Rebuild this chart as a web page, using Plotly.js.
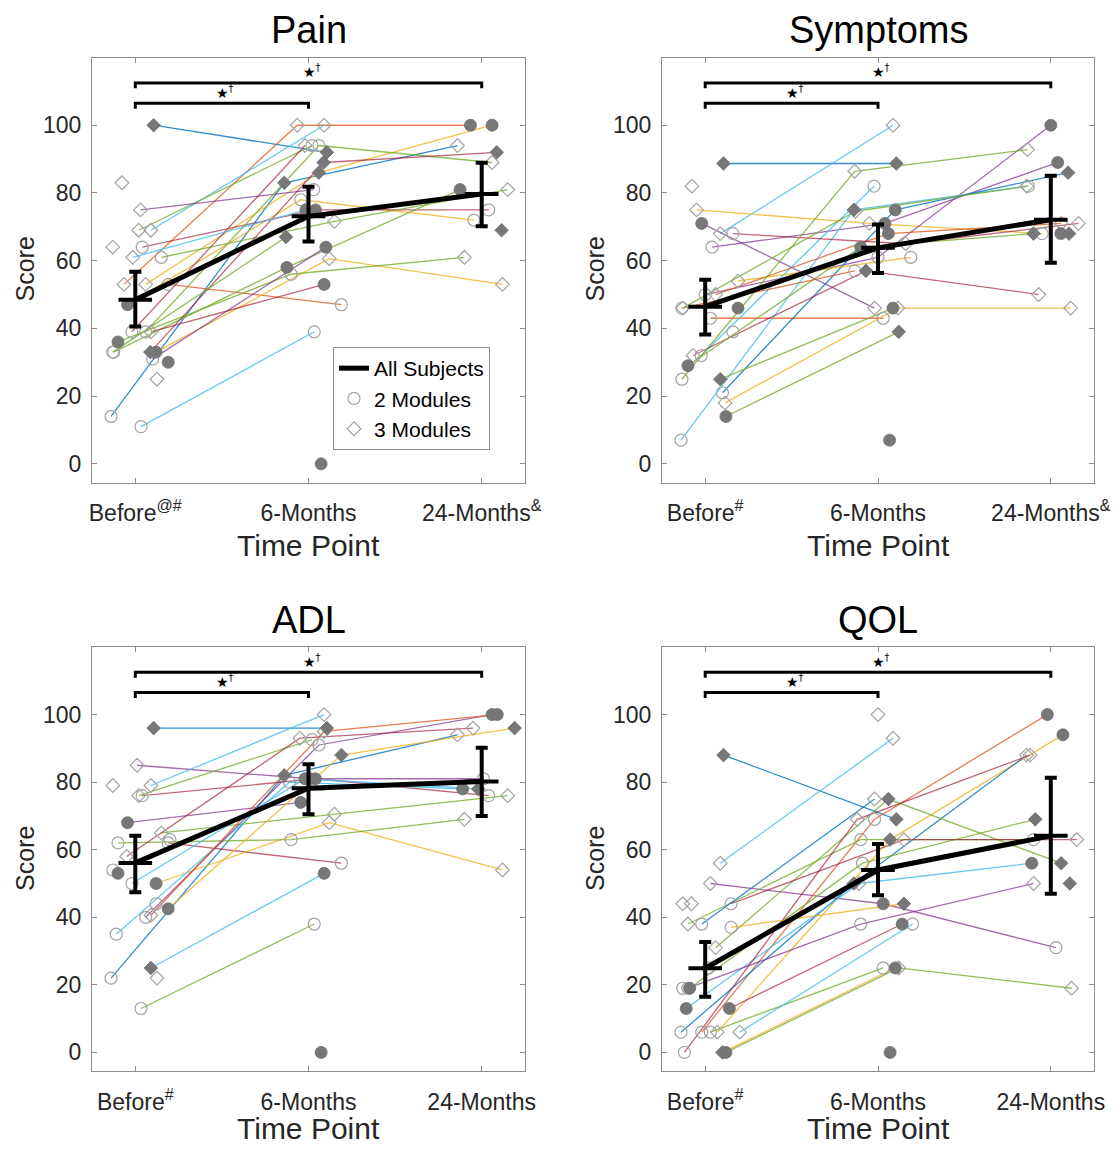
<!DOCTYPE html>
<html>
<head>
<meta charset="utf-8">
<script src="https://cdn.plot.ly/plotly-3.0.1.min.js"></script>
<style>html,body{margin:0;padding:0;background:#fff}#chart{width:1115px;height:1150px}</style>
</head>
<body>
<div id="chart"></div>
<script>
// ---------------- DATA ----------------
const timePoints = [1, 2, 3];
const painTicks = ['Before<sup>@#</sup>', '6-Months', '24-Months<sup>&</sup>'];
const symptomsTicks = ['Before<sup>#</sup>', '6-Months', '24-Months<sup>&</sup>'];
const adlTicks = ['Before<sup>#</sup>', '6-Months', '24-Months'];
const qolTicks = ['Before<sup>#</sup>', '6-Months', '24-Months'];
const yTickVals = [0, 20, 40, 60, 80, 100];

// marker codes per time point: o = 2 Modules, d = 3 Modules, O/D = filled, - = none
// Pain
const painJitter = [0.106, -0.14, 0.033, -0.065, 0.09, 0.02, 0.06, -0.045, 0.03, 0.04, 0.19, 0.15, 0.12, -0.1, -0.125, 0.1, 0.09, 0.06, -0.02, 0.087, -0.015, -0.13, -0.077, -0.13, 0.19, 0.125, 0.073, 0.115];
const painBefore = [100, 14, 11, 53, 69, 69, 53, 47, 75, 64, 53, 61, 33, 36, 33, 31, 39, 39, 39, 33, 61, 33, 83, 64, 30, 25, null, null];
const painSix = [92, 83, 39, 100, 100, 94, 86, 78, 81, 75, 47, 71.6, 60.6, 56, 58, 64, 53, 94, 94, 89, 75, 67, null, null, null, null, 0, null];
const painTwentyFour = [null, 94, null, 100, null, null, 100, 72, null, 75, null, 81, 53, 61, 81, null, null, 89, null, 92, null, null, null, null, null, null, null, 69];
const painMarks = ['DD-', 'oDd', 'oo-', 'ddO', 'dd-', 'do-', 'dDO', 'Ooo', 'do-', 'oOo', 'oo-', 'odd', 'Odd', 'Ood', 'oOO', 'oO-', 'dO-', 'ood', 'od-', 'DDD', 'dO-', 'oD-', 'd--', 'd--', 'O--', 'd--', '-O-', '--D'];
const painColors = 'bbcocgyyprogyggprgrrcgpbbbbb';
const painMean = [48.5, 73.1, 79.7];
const painUpper = [56.7, 81.8, 88.9];
const painLower = [40.6, 65.7, 70.2];

// Symptoms
const symJitter = [0.106, 0.087, -0.05, -0.02, 0.04, 0.0, 0.03, -0.14, 0.1, -0.023, -0.07, 0.087, 0.12, 0.115, 0.19, 0.06, -0.1, 0.16, -0.135, -0.13, -0.135, -0.077, 0.19, 0.16, 0.067, 0.058, 0.106];
const symBefore = [88.7, 68, 75, 71, 64, 50, 43, 7, 21, 32, 32, 25, 14, 18, 54, 50, 29, 68, 46, 46, 25, 82, 46, 39, null, null, null];
const symSix = [88.7, 100, 71, 46, 71, 61, 43, 75, 75, 82, 57, 46, 39, 46, 61, 68, 64, 65, 57, 74.6, 86.4, null, null, null, 7, null, null];
const symTwentyFour = [null, null, 68, null, 89, 100, null, 82, 86, null, 50, null, null, 46, null, 71, 68, 71, null, 82, 92.8, null, null, null, null, 68, 68];
const symMarks = ['DD-', 'dd-', 'ddo', 'Od-', 'oOO', 'ooO', 'oo-', 'oDd', 'oOD', 'oo-', 'dDd', 'DO-', 'OD-', 'ddd', 'do-', 'dOd', 'OOD', 'odd', 'oo-', 'ddo', 'odd', 'd--', 'O--', 'o--', '-O-', '--O', '--D'];
const symColors = 'bcypppocbcrggyyogroggypbbbbb';
const symMean = [46.4, 63.8, 72.1];
const symUpper = [54.4, 70.7, 85.1];
const symLower = [38.2, 56.4, 59.4];

// ADL
const adlJitter = [0.106, 0.01, 0.09, 0.02, -0.14, 0.04, -0.045, 0.15, 0.19, 0.12, -0.1, 0.09, 0.033, -0.11, 0.06, 0.09, 0.19, -0.02, -0.05, -0.13, -0.13, -0.1, 0.12, 0.125, 0.073, 0.2];
const adlBefore = [96, 85, 79, 76, 22, 76, 68, 65, 62, 50, 62, 25, 13, 35, 40, 40.6, 42.5, 50, 58, 79, 54, 53, 44, 22, null, 63];
const adlSix = [96, 81, 100, 92.6, 82, 81, 74, 70.5, 56, 68, 63, 53, 38, 80, 91, 95, 88, 81, 93, null, null, null, null, null, 0, null];
const adlTwentyFour = [null, 81, null, null, 94, 76, null, 76, null, 54, 69, null, null, 78, 100, 100, 96, 78, 96, null, null, null, null, null, null, null];
const adlMarks = ['DD-', 'dOo', 'dd-', 'do-', 'oDd', 'oOo', 'OO-', 'ddd', 'oo-', 'Odd', 'ood', 'DO-', 'oo-', 'ooO', 'ooO', 'ddO', 'ODD', 'oOD', 'ddd', 'd--', 'o--', 'O--', 'o--', 'd--', '-O-', 'o--'];
const adlColors = 'bpcgbrpgrygcgcpoycrcbbbbbbb';
const adlMean = [56.1, 78.2, 80.2];
const adlUpper = [64.1, 85.3, 90.2];
const adlLower = [47.4, 70.5, 70.0];

// QOL
const qolJitter = [0.106, 0.087, 0.03, -0.02, 0.07, -0.14, 0.06, -0.1, -0.09, -0.11, -0.1, 0.12, 0.1, 0.03, 0.2, 0.14, -0.12, 0.15, 0.15, -0.13, -0.08, 0.0, 0.07, -0.02, 0.02, -0.13, 0.11];
const qolBefore = [88, 56, 50, 6, 6, 6, 31, 38, 19, 13, 19, 0, 0, 6, 6, 13, 0, 44, 37, 44, 44, null, null, 38, 25, 19, null];
const qolSix = [69, 93, 44, 69, 63, 50, 75, 63, 56, 50, 38, 25, 25, 25, 38, 38, 69, 63, 44, null, null, 100, 0, 75, null, null, null];
const qolTwentyFour = [null, null, 31, 100, 94, 88, 56, 63, 69, 56, 50, 19, null, null, null, null, 88, 63, null, null, null, null, null, null, null, null, 50];
const qolMarks = ['DD-', 'dd-', 'dOo', 'ooO', 'dDO', 'oDd', 'dDD', 'doo', 'OoD', 'OdO', 'ood', 'Odd', 'DO-', 'oo-', 'do-', 'OO-', 'odd', 'odd', 'oD-', 'd--', 'd--', '-d-', '-O-', 'od-', 'o--', 'o--', '--D'];
const qolColors = 'bcpoybgggcpgygcrrryobbbbgbbb';
const qolMean = [24.9, 54.0, 64.1];
const qolUpper = [32.7, 61.7, 81.3];
const qolLower = [16.5, 46.5, 47.0];

// significance brackets: [from, to, level]
const bracketPairs = [[1, 2, 106.5], [1, 3, 112.5]];
const bracketLabel = '★<sup>†</sup>';

// ---------------- STYLE ----------------
const palette = {
  b: 'rgba(0,114,189,0.8)', o: 'rgba(217,83,25,0.75)', y: 'rgba(237,177,32,0.8)',
  p: 'rgba(126,47,142,0.7)', g: 'rgba(119,172,48,0.8)', c: 'rgba(77,190,238,0.85)', r: 'rgba(162,20,47,0.65)'
};
const markerStyles = {
  o: {symbol: 'circle-open', size: 12, color: '#a3a3a3', line: {width: 1.2, color: '#a3a3a3'}},
  d: {symbol: 'diamond-open', size: 10.5, color: '#a3a3a3', line: {width: 1.2, color: '#a3a3a3'}},
  O: {symbol: 'circle', size: 12, color: '#777777', line: {width: 0.8, color: '#6e6e6e'}},
  D: {symbol: 'diamond', size: 10.5, color: '#777777', line: {width: 0.8, color: '#6e6e6e'}}
};
const FONT = 'Liberation Sans, Arial, Helvetica, sans-serif';
const W = 1115, H = 1150;
const colPx = [[92, 525], [662, 1094]];
const rowPx = [[57.5, 482.5], [647, 1071]];
const xTitleGap = [488, 481];

const panels = [
  {title: 'Pain', jit: painJitter, v: [painBefore, painSix, painTwentyFour], mk: painMarks, col: painColors, mean: painMean, up: painUpper, lo: painLower, ticks: painTicks, c: 0, r: 0},
  {title: 'Symptoms', jit: symJitter, v: [symBefore, symSix, symTwentyFour], mk: symMarks, col: symColors, mean: symMean, up: symUpper, lo: symLower, ticks: symptomsTicks, c: 1, r: 0},
  {title: 'ADL', jit: adlJitter, v: [adlBefore, adlSix, adlTwentyFour], mk: adlMarks, col: adlColors, mean: adlMean, up: adlUpper, lo: adlLower, ticks: adlTicks, c: 0, r: 1},
  {title: 'QOL', jit: qolJitter, v: [qolBefore, qolSix, qolTwentyFour], mk: qolMarks, col: qolColors, mean: qolMean, up: qolUpper, lo: qolLower, ticks: qolTicks, c: 1, r: 1}
];

const traces = [];
const layout = {
  width: W, height: H, margin: {l: 0, r: 0, t: 0, b: 0},
  paper_bgcolor: '#fff', plot_bgcolor: '#fff',
  font: {family: FONT, color: '#262626'},
  showlegend: true,
  legend: {x: 333 / W, y: 1 - 347 / H, xanchor: 'left', yanchor: 'top', bgcolor: '#fff',
           bordercolor: '#8c8c8c', borderwidth: 1, font: {size: 21, family: FONT, color: '#000'},
           tracegroupgap: 0, itemwidth: 30},
  annotations: [], shapes: []
};

panels.forEach((p, i) => {
  const n = i === 0 ? '' : String(i + 1);
  const xa = 'x' + n, ya = 'y' + n;
  const xd = [colPx[p.c][0] / W, colPx[p.c][1] / W];
  const yd = [1 - rowPx[p.r][1] / H, 1 - rowPx[p.r][0] / H];
  const axCommon = {ticks: 'inside', ticklen: 5, tickcolor: '#8c8c8c', showline: true, linecolor: '#8c8c8c',
    linewidth: 1, mirror: 'ticks', showgrid: false, zeroline: false, fixedrange: true,
    tickfont: {size: 23, family: FONT, color: '#262626'}};
  layout['xaxis' + n] = Object.assign({}, axCommon, {domain: xd, anchor: ya, range: [0.75, 3.25],
    tickmode: 'array', tickvals: timePoints, ticktext: p.ticks, ticklabelstandoff: 10});
  layout['yaxis' + n] = Object.assign({}, axCommon, {domain: yd, anchor: xa, range: [-5.5, 120],
    tickmode: 'array', tickvals: yTickVals, ticklabelstandoff: 5});

  // subject lines
  p.jit.forEach((j, s) => {
    traces.push({x: timePoints.map(t => t + j), y: p.v.map(a => a[s]), xaxis: xa, yaxis: ya,
      mode: 'lines', line: {color: palette[p.col[s]] || palette.b, width: 1.3}, connectgaps: false,
      hoverinfo: 'skip', showlegend: false});
  });
  // markers grouped by style
  ['o', 'd', 'O', 'D'].forEach(code => {
    const xs = [], ys = [];
    p.jit.forEach((j, s) => {
      for (let k = 0; k < 3; k++) {
        if (p.mk[s][k] === code && p.v[k][s] !== null) { xs.push(timePoints[k] + j); ys.push(p.v[k][s]); }
      }
    });
    traces.push({x: xs, y: ys, xaxis: xa, yaxis: ya, mode: 'markers', marker: markerStyles[code],
      hoverinfo: 'skip', showlegend: false});
  });
  // mean with error bars
  traces.push({x: timePoints, y: p.mean, xaxis: xa, yaxis: ya, mode: 'lines+markers', name: 'All Subjects',
    showlegend: i === 0, line: {color: '#000', width: 5},
    marker: {symbol: 'line-ew', size: 24, color: '#000', line: {width: 4, color: '#000'}},
    error_y: {type: 'data', symmetric: false, array: p.up.map((u, k) => u - p.mean[k]),
      arrayminus: p.mean.map((m, k) => m - p.lo[k]), thickness: 4, width: 6, color: '#000'}});

  // brackets & labels
  bracketPairs.forEach(([a, b, lev]) => {
    layout.shapes.push({type: 'path', xref: xa, yref: ya,
      path: `M ${a},${lev - 1.6} L ${a},${lev} L ${b},${lev} L ${b},${lev - 1.6}`,
      line: {color: '#000', width: 3}});
    layout.annotations.push({xref: xa, yref: ya, x: (a + b) / 2 + 0.02, y: lev + 0.2,
      xanchor: 'center', yanchor: 'bottom',
      text: bracketLabel, showarrow: false, font: {size: 14, color: '#000', family: 'DejaVu Sans'}});
  });

  const cx = (colPx[p.c][0] + colPx[p.c][1]) / 2;
  const top = rowPx[p.r][0];
  layout.annotations.push({xref: 'paper', yref: 'paper', x: cx / W, y: 1 - (top - 27) / H,
    xanchor: 'center', yanchor: 'middle',
    text: p.title, showarrow: false, font: {size: 38, color: '#000', family: FONT}});
  layout.annotations.push({xref: 'paper', yref: 'paper', x: cx / W, y: 1 - (top + xTitleGap[p.r]) / H,
    xanchor: 'center', yanchor: 'middle',
    text: 'Time Point', showarrow: false, font: {size: 30, color: '#262626', family: FONT}});
  layout.annotations.push({xref: 'paper', yref: 'paper', x: (colPx[p.c][0] - 67) / W, y: 1 - (top + 212) / H,
    xanchor: 'center', yanchor: 'middle', textangle: -90,
    text: 'Score', showarrow: false, font: {size: 25, color: '#262626', family: FONT}});
});

// legend-only entries
traces.push({x: [null], y: [null], mode: 'markers', name: '2 Modules', marker: markerStyles.o, hoverinfo: 'skip'});
traces.push({x: [null], y: [null], mode: 'markers', name: '3 Modules', marker: markerStyles.d, hoverinfo: 'skip'});

Plotly.newPlot('chart', traces, layout, {staticPlot: true, displayModeBar: false});
</script>
</body>
</html>
